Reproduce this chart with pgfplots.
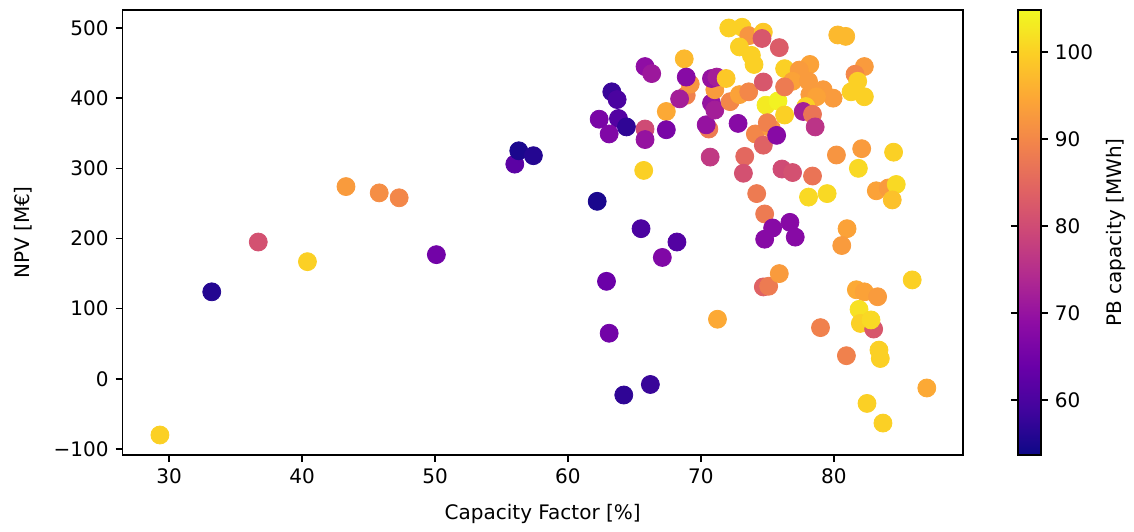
\documentclass[border=0pt]{standalone}
\usepackage{fontspec}
\setmainfont{DejaVu Sans}
\usepackage{pgfplots}
\pgfplotsset{compat=1.18}
\pgfplotsset{colormap={plasma}{rgb255(0cm)=(13,8,135); rgb255(1cm)=(65,4,157); rgb255(2cm)=(106,0,168); rgb255(3cm)=(143,13,164); rgb255(4cm)=(177,42,144); rgb255(5cm)=(204,71,120); rgb255(6cm)=(225,100,98); rgb255(7cm)=(242,132,75); rgb255(8cm)=(252,166,54); rgb255(9cm)=(252,206,37); rgb255(10cm)=(240,249,33)}}
\begin{document}
\begin{tikzpicture}
\begin{axis}[name=ax, scale only axis, width=420pt, height=222.5pt,
  xmin=26.5, xmax=89.7, ymin=-108.5, ymax=525.6,
  xtick={30,40,50,60,70,80},
  ytick={-100,0,100,200,300,400,500},
  yticklabels={−100,0,100,200,300,400,500},
  tick align=outside, tick pos=left, major tick length=3.5pt,
  every tick/.style={black, line width=0.8pt},
  axis line style={line width=0.8pt},
  /pgf/number format/assume math mode=true,
  font=\fontsize{10}{12}\selectfont,
  xlabel={Capacity Factor [\%]}, ylabel={NPV [M€]},
  xlabel shift=3pt, ylabel shift=4pt,
  colormap name=plasma, point meta min=53.7, point meta max=104.8,
  colorbar,
  colorbar style={scale only axis, width=11.5pt, height=222.5pt,
    at={(parent axis.north east)}, anchor=north west, xshift=19pt,
    ytick={60,70,80,90,100}, ylabel={PB capacity [MWh]},
    tick align=outside, major tick length=3.5pt,
    every tick/.style={black, line width=0.8pt},
    axis line style={line width=0.8pt},
    /pgf/number format/assume math mode=true,
    font=\fontsize{10}{12}\selectfont},
]
\addplot[scatter, only marks, mark=*, mark size=4.5pt, scatter src=explicit,
  scatter/use mapped color={draw=mapped color, fill=mapped color}]
table[x=x, y=y, meta=c] {
x y c
29.3 -80 100
33.2 124 56
36.7 195 81
40.4 167 100
43.3 274 93
45.8 265 91
47.3 258 90
50.1 177 65
56.0 306 62
56.3 325 55
57.4 318 56
62.2 253 55
62.9 139 64
63.1 65 65
64.2 -23 57
66.2 -8 58
65.5 214 60
68.2 195 61
67.1 173 67
65.7 297 100
63.3 409 58
63.7 398 60
62.35 370 66
63.8 371 61
64.4 359 57
63.1 349 67
65.8 356 80
65.8 341 70
65.8 445 69
66.3 435 71
67.4 381 95
67.4 355 66
68.9 404 89
69.2 420 92
68.4 399 72
68.75 456 97
68.9 430 68
70.7 316 77
70.6 356 88
70.4 362 70
70.8 393 70
71.05 383 72
71.05 412 93
70.8 428 70
71.2 430 72
71.9 428 99
72.2 395 90
72.9 405 94
72.8 364 68
71.25 85 95
72.1 500 100
73.1 501 100
73.6 489 92
74.7 494 99
74.6 485 82
72.9 473 100
73.8 461 100
74.0 448 100
75.9 472 83
76.3 442 100
73.6 409 90
74.7 423 82
74.9 390 103
75.8 396 104
74.1 349 90
74.7 333 84
75.3 357 93
75.0 365 89
75.7 347 68
73.3 317 85
73.2 293 81
74.2 264 88
74.8 235 88
75.4 215 68
74.8 199 68
74.7 131 84
75.1 132 88
75.9 150 93
76.1 299 80
76.9 294 81
78.4 289 87
76.7 223 68
77.1 202 68
78.1 259 101
79.5 264 101
80.2 319 92
82.1 328 93
84.5 323 100
81.85 300 101
83.2 268 94
84.1 272 93
84.7 277 101
84.4 255 98
81.0 214 94
80.6 190 93
85.9 141 100
81.7 127 95
82.3 124 94
83.3 117 93
79.0 73 89
80.95 33 89
81.9 99 102
82.0 79 100
83.0 71 82
82.8 84 101
83.4 41 100
83.5 29 100
87.0 -13 95
82.5 -35 100
83.7 -63 100
80.3 490 97
80.9 488 97
78.2 448 94
77.4 440 93
76.9 424 94
78.1 424 93
76.3 416 88
78.2 405 93
79.2 412 93
79.95 400 93
78.7 402 94
82.3 445 93
81.6 434 90
81.8 424 100
81.3 409 100
82.3 402 100
77.9 388 100
77.7 381 72
78.4 377 87
76.3 376 100
78.6 359 76
};
\end{axis}
\path (ax.south west) ++(-61.35pt,-38pt) rectangle ++(567pt,265.5pt);
\end{tikzpicture}
\end{document}
